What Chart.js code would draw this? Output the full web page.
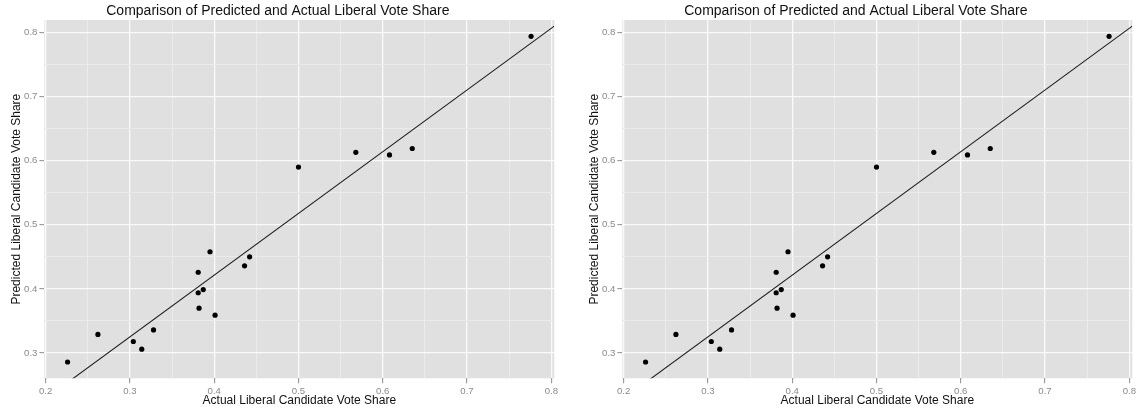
<!DOCTYPE html>
<html>
<head>
<meta charset="utf-8">
<script src="https://cdn.jsdelivr.net/npm/chart.js@4"></script>
<style>
  body { margin: 0; background: #ffffff; }
  .panel { position: absolute; top: 0; }
  #leftPanel { left: 0; }
  #rightPanel { left: 578px; }
</style>
</head>
<body>
<canvas id="leftPanel" class="panel" width="560" height="411"></canvas>
<canvas id="rightPanel" class="panel" width="560" height="411"></canvas>
<script>
// vote share per riding: actual result vs model prediction
const actualShare = [0.226, 0.262, 0.304, 0.314, 0.328, 0.381, 0.381, 0.387, 0.382, 0.395,
                     0.401, 0.436, 0.442, 0.500, 0.568, 0.608, 0.635, 0.776];
const predictedShare = [0.286, 0.329, 0.318, 0.306, 0.336, 0.426, 0.394, 0.399, 0.370, 0.458,
                        0.359, 0.436, 0.450, 0.590, 0.613, 0.609, 0.619, 0.794];

// fitted line (predicted ~ actual)
const fitIntercept = 0.0365;
const fitSlope = 0.9625;

// axis ranges and breaks
const xLimits = [0.1985, 0.8035];
const yLimits = [0.2606, 0.8194];
const xMajor = [0.2, 0.3, 0.4, 0.5, 0.6, 0.7, 0.8];
const xMinor = [0.25, 0.35, 0.45, 0.55, 0.65, 0.75];
const yMajor = [0.3, 0.4, 0.5, 0.6, 0.7, 0.8];
const yMinor = [0.35, 0.45, 0.55, 0.65, 0.75];

const FONT = '"Liberation Sans", Arial, Helvetica, sans-serif';
const PANEL_BG = '#e0e0e0';
const MINOR_LINE = '#ebebeb';
const MAJOR_LINE = '#fafafa';
const TICK_GREY = '#8c8c8c';

// grey panel behind the grid
const panelBackground = {
    id: 'panelBackground',
    beforeDraw(chart) {
        const { ctx, chartArea: a } = chart;
        ctx.save();
        ctx.fillStyle = PANEL_BG;
        ctx.fillRect(a.left, a.top, a.right - a.left, a.bottom - a.top);
        ctx.restore();
    }
};

function breaks(major, minor) {
    return function(scale) {
        const ticks = major.map(v => ({ value: v, minor: false }))
            .concat(minor.map(v => ({ value: v, minor: true })));
        ticks.sort((a, b) => a.value - b.value);
        scale.ticks = ticks;
    };
}

function axis(limits, major, minor, title, titlePadding, fit) {
    return {
        type: 'linear',
        min: limits[0],
        max: limits[1],
        afterBuildTicks: breaks(major, minor),
        afterFit: fit,
        border: { display: false },
        grid: {
            color: c => (c.tick && c.tick.minor) ? MINOR_LINE : MAJOR_LINE,
            lineWidth: c => (c.tick && c.tick.minor) ? 1 : 1.3,
            tickColor: c => (c.tick && c.tick.minor) ? 'rgba(0,0,0,0)' : TICK_GREY,
            tickWidth: 1,
            tickLength: 5
        },
        ticks: {
            autoSkip: false,
            maxRotation: 0,
            padding: 2,
            color: '#8a8a8a',
            font: { family: FONT, size: 9.6 },
            callback: (value, i, ticks) => ticks[i].minor ? '' : value.toFixed(1)
        },
        title: {
            display: true,
            text: title,
            color: '#111111',
            font: { family: FONT, size: 12 },
            padding: titlePadding
        }
    };
}

function drawPanel(canvasId) {
    const ctx = document.getElementById(canvasId).getContext('2d');
    const fitLine = xLimits.map(x => ({ x: x, y: fitIntercept + fitSlope * x }));
    const points = actualShare.map((x, i) => ({ x: x, y: predictedShare[i] }));

    return new Chart(ctx, {
        type: 'scatter',
        data: {
            datasets: [{
                type: 'line',
                data: fitLine,
                borderColor: '#1e1e1e',
                borderWidth: 1.1,
                pointRadius: 0,
                fill: false,
                order: 2
            }, {
                data: points,
                backgroundColor: '#000000',
                borderWidth: 0,
                pointRadius: 2.6,
                order: 1
            }]
        },
        options: {
            responsive: false,
            animation: false,
            devicePixelRatio: 1,
            layout: { padding: { left: 0, right: 4.3, top: 0, bottom: 0 } },
            plugins: {
                legend: { display: false },
                tooltip: { enabled: false },
                title: {
                    display: true,
                    text: 'Comparison of Predicted and Actual Liberal Vote Share',
                    color: '#111111',
                    font: { family: FONT, size: 14, weight: 'normal' },
                    padding: { top: 2.7, bottom: 0.5 }
                }
            },
            scales: {
                x: axis(xLimits, xMajor, xMinor, 'Actual Liberal Candidate Vote Share',
                    { top: 0, bottom: 3 }, s => { s.height = 32.7; }),
                y: axis(yLimits, yMajor, yMinor, 'Predicted Liberal Candidate Vote Share',
                    { top: 9.3, bottom: 0 }, s => { s.width = 44.4; })
            }
        },
        plugins: [panelBackground]
    });
}

drawPanel('leftPanel');
drawPanel('rightPanel');
</script>
</body>
</html>
